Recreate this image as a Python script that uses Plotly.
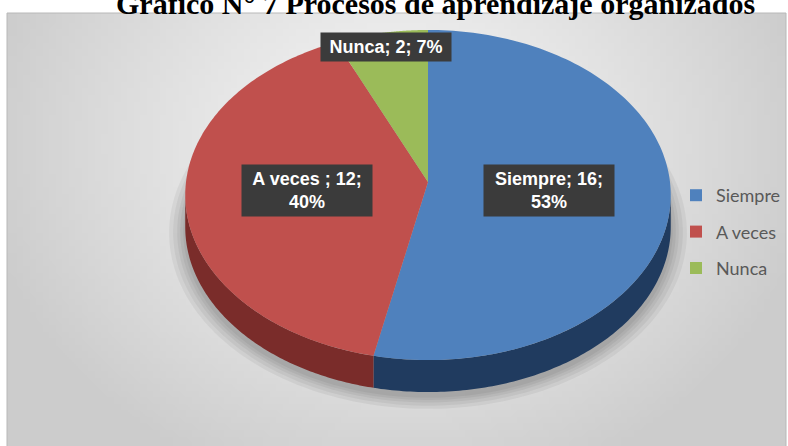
import base64
import struct
import zlib

import numpy as np
import plotly.graph_objects as go

# ---------------- data ----------------
categories = ["Siempre", "A veces ", "Nunca"]
values = [16, 12, 2]
title_text = "Gráfico N° 7 Procesos de aprendizaje organizados"

# ---------------- styling ----------------
colors_top = ["#4F81BD", "#C0504D", "#9BBB59"]
colors_side = ["#203B5F", "#7A2C2A", "#5E7433"]
label_frac = [0.5, 0.5, 0.9]

W, H = 788, 446
CX, CY = 428, 182
R_X, R_Y, K = 242, 164, 0.0788
DEPTH = 32


def proj(theta_deg, frac=1.0):
    t = np.radians(theta_deg)
    u = frac * np.sin(t)
    v = frac * np.cos(t)
    w = 1 + K * v
    return CX + R_X * u / w, CY - R_Y * v / w


def png_data_uri(arr):
    h, w, _ = arr.shape
    raw = b"".join(b"\x00" + arr[i].tobytes() for i in range(h))

    def chunk(t, d):
        c = struct.pack(">I", len(d)) + t + d
        return c + struct.pack(">I", zlib.crc32(t + d) & 0xFFFFFFFF)

    png = (b"\x89PNG\r\n\x1a\n"
           + chunk(b"IHDR", struct.pack(">IIBBBBB", w, h, 8, 2, 0, 0, 0))
           + chunk(b"IDAT", zlib.compress(raw))
           + chunk(b"IEND", b""))
    return "data:image/png;base64," + base64.b64encode(png).decode()


# background radial gradient
gw, gh = 120, 66
gx, gy = np.meshgrid(np.linspace(0, 1, gw), np.linspace(0, 1, gh))
d = np.sqrt(((gx - 0.5) / 0.55) ** 2 + ((gy - 0.3) / 0.85) ** 2)
val = 244 - 40 * np.clip(d, 0, 1) ** 1.3
img = np.repeat(val[:, :, None], 3, axis=2).astype(np.uint8)
bg_uri = png_data_uri(img)

fig = go.Figure()

total = sum(values)
angles = np.cumsum([0] + [v / total * 360 for v in values])

# shadow
for e in [16, 12, 8, 5, 2]:
    th = np.linspace(0, 360, 200)
    xs, ys = proj(th, 1 + e / 242)
    fig.add_trace(go.Scatter(x=xs, y=np.array(ys) + DEPTH + 4, fill="toself",
                             mode="none", fillcolor="rgba(0,0,0,0.05)",
                             showlegend=False, hoverinfo="skip"))

# sides
ta = np.degrees(np.arccos(-K))
for i in range(len(values)):
    s0 = max(angles[i], ta)
    s1 = min(angles[i + 1], 360 - ta)
    if s1 > s0:
        th = np.linspace(s0, s1, 120)
        xt, yt = proj(th)
        xs = np.concatenate([xt, xt[::-1]])
        ys = np.concatenate([yt, (yt + DEPTH)[::-1]])
        fig.add_trace(go.Scatter(x=xs, y=ys, fill="toself", mode="none",
                                 fillcolor=colors_side[i], showlegend=False,
                                 hoverinfo="skip"))

# top faces
for i in range(len(values)):
    th = np.linspace(angles[i], angles[i + 1], 150)
    xt, yt = proj(th)
    xs = np.concatenate([[CX], xt, [CX]])
    ys = np.concatenate([[CY], yt, [CY]])
    fig.add_trace(go.Scatter(x=xs, y=ys, fill="toself", mode="none",
                             fillcolor=colors_top[i], showlegend=False,
                             name=categories[i], hoverinfo="name"))

# legend entries
for i, c in enumerate(categories):
    fig.add_trace(go.Scatter(x=[None], y=[None], mode="markers", name=c,
                             legendgroup=c,
                             marker=dict(symbol="square", size=12,
                                         color=colors_top[i])))

# data labels
for i, c in enumerate(categories):
    mid = (angles[i] + angles[i + 1]) / 2
    lx, ly = proj(mid, label_frac[i])
    pct = round(values[i] / total * 100)
    if label_frac[i] > 0.7:
        txt = f"{c}; {values[i]}; {pct}%"
    else:
        txt = f"{c}; {values[i]};<br>{pct}%"
    fig.add_annotation(x=lx, y=ly, xref="x", yref="y", text=txt,
                       showarrow=False, width=122, borderpad=4,
                       bgcolor="#3b3b3b",
                       font=dict(family="Liberation Sans", size=18,
                                 color="white", weight="bold"))

# title
fig.add_annotation(x=435, y=22, xref="x", yref="y", text=title_text,
                   showarrow=False, yanchor="bottom", xanchor="center",
                   font=dict(family="Liberation Serif", size=30,
                             color="black", weight="bold"))

fig.add_layout_image(dict(source=bg_uri, xref="paper", yref="paper",
                          x=7 / W, y=1 - 13 / H, sizex=(786 - 7) / W,
                          sizey=(H - 13) / H, sizing="stretch",
                          xanchor="left", yanchor="top", layer="below"))
fig.add_shape(type="rect", xref="x", yref="y", x0=7, x1=786, y0=13, y1=447,
              line=dict(color="#b8b8b8", width=1), layer="below")

fig.update_layout(
    width=W, height=H,
    margin=dict(l=0, r=0, t=0, b=0, autoexpand=False),
    paper_bgcolor="white",
    plot_bgcolor="rgba(0,0,0,0)",
    xaxis=dict(range=[0, W], visible=False, fixedrange=True),
    yaxis=dict(range=[H, 0], visible=False, fixedrange=True),
    showlegend=True,
    legend=dict(x=676 / W, y=1 - 232 / H, xanchor="left", yanchor="middle",
                traceorder="grouped", tracegroupgap=10,
                bgcolor="rgba(0,0,0,0)",
                font=dict(family="Lato", size=18, color="#595959"),
                itemwidth=30),
)

fig.write_html("out.html",
               config={"displayModeBar": False},
               post_script="document.body.style.margin='0';"
                           "document.body.style.overflow='hidden';")
